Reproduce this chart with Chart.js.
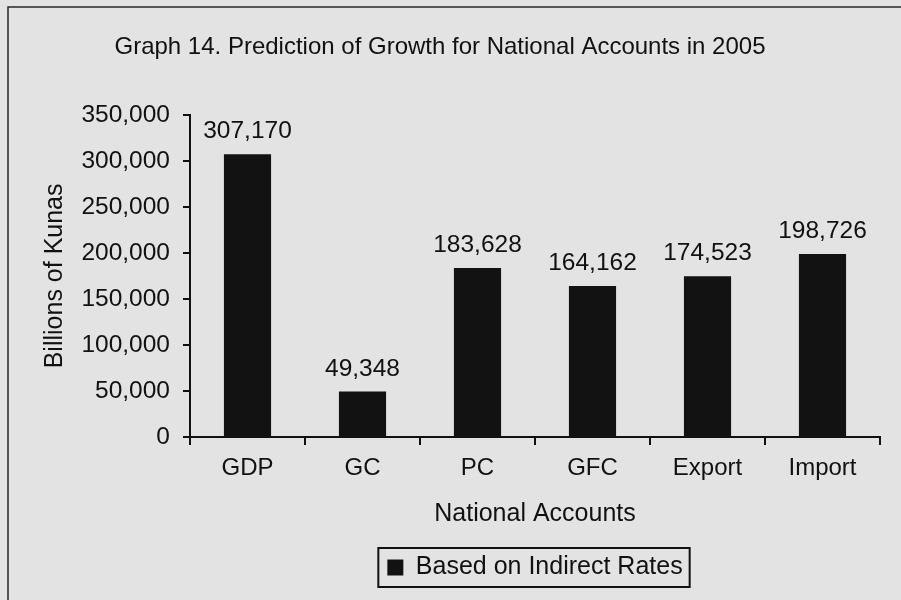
<!DOCTYPE html>
<html>
<head>
<meta charset="utf-8">
<script src="https://cdn.jsdelivr.net/npm/chart.js@4"></script>
<style>
  html, body { margin: 0; padding: 0; background: #e3e3e3; }
  #chart-container { width: 901px; height: 600px; }
</style>
</head>
<body>
<div id="chart-container"><canvas id="myChart" width="901" height="600"></canvas></div>
<script>
const categories = ["GDP", "GC", "PC", "GFC", "Export", "Import"];
const indirectRates = [307170, 49348, 183628, 164162, 174523, 198726];
const yTickValues = [0, 50000, 100000, 150000, 200000, 250000, 300000, 350000];

const FONT = "'Liberation Sans', Arial, sans-serif";

function formatThousands(value) {
  return value.toLocaleString("en-US");
}

// page frame + grey paper behind the plot
const framePlugin = {
  id: "frame",
  beforeDraw(chart) {
    const ctx = chart.ctx;
    ctx.save();
    ctx.fillStyle = "#e3e3e3";
    ctx.fillRect(0, 0, chart.width, chart.height);
    ctx.strokeStyle = "#2a2a2a";
    ctx.lineWidth = 1.5;
    ctx.beginPath();
    ctx.moveTo(8, chart.height);
    ctx.lineTo(8, 7);
    ctx.lineTo(chart.width, 7);
    ctx.stroke();
    ctx.restore();
  },
};

// value printed above each bar
const valueLabels = {
  id: "valueLabels",
  afterDatasetsDraw(chart) {
    const ctx = chart.ctx;
    const meta = chart.getDatasetMeta(0);
    ctx.save();
    ctx.font = `24.5px ${FONT}`;
    ctx.fillStyle = "#111";
    ctx.textAlign = "center";
    ctx.textBaseline = "alphabetic";
    meta.data.forEach((bar, i) => {
      ctx.fillText(formatThousands(chart.data.datasets[0].data[i]), bar.x, bar.y - 16);
    });
    ctx.restore();
  },
};

// box drawn round the legend item
const legendBorder = {
  id: "legendBorder",
  afterDraw(chart) {
    const box = chart.legend && chart.legend.legendHitBoxes[0];
    if (!box) return;
    const ctx = chart.ctx;
    ctx.save();
    ctx.strokeStyle = "#111";
    ctx.lineWidth = 2;
    ctx.strokeRect(box.left - 9, box.top - 7, box.width + 16, box.height + 14);
    ctx.restore();
  },
};

const ctx = document.getElementById("myChart").getContext("2d");
new Chart(ctx, {
  type: "bar",
  data: {
    labels: categories,
    datasets: [
      {
        label: "Based on Indirect Rates",
        data: indirectRates,
        backgroundColor: "#121212",
        borderWidth: 0,
        categoryPercentage: 1,
        barPercentage: 0.41,
      },
    ],
  },
  options: {
    responsive: false,
    animation: false,
    devicePixelRatio: 1,
    layout: { padding: { left: 0, right: 21, top: 0, bottom: 10 } },
    plugins: {
      title: {
        display: true,
        text: "Graph 14. Prediction of Growth for National Accounts in 2005",
        color: "#111",
        font: { family: FONT, size: 24, weight: "normal" },
        padding: { top: 33, bottom: 53 },
      },
      legend: {
        display: true,
        position: "bottom",
        fullSize: false,
        labels: {
          color: "#111",
          font: { family: FONT, size: 25 },
          boxWidth: 16,
          boxHeight: 16,
          padding: 10,
        },
      },
      tooltip: { enabled: false },
    },
    scales: {
      x: {
        grid: {
          offset: true,
          drawOnChartArea: false,
          color: "#111",
          lineWidth: 2,
          tickLength: 8,
        },
        border: { display: true, color: "#111", width: 2 },
        ticks: {
          color: "#111",
          font: { family: FONT, size: 24 },
          padding: 9,
          maxRotation: 0,
        },
        title: {
          display: true,
          text: "National Accounts",
          color: "#111",
          font: { family: FONT, size: 25 },
          padding: { top: 0, bottom: 16 },
        },
        afterFit(scale) {
          scale.height = 108;
        },
      },
      y: {
        min: 0,
        max: 350000,
        afterBuildTicks(scale) {
          scale.ticks = yTickValues.map((v) => ({ value: v }));
        },
        grid: {
          drawOnChartArea: false,
          color: "#111",
          lineWidth: 2,
          tickLength: 7,
        },
        border: { display: true, color: "#111", width: 2 },
        ticks: {
          color: "#111",
          font: { family: FONT, size: 24.5 },
          padding: 13,
          callback: (value) => formatThousands(value),
        },
        title: {
          display: true,
          text: "Billions of Kunas",
          color: "#111",
          font: { family: FONT, size: 25 },
          padding: { top: 40, bottom: 0 },
        },
        afterFit(scale) {
          scale.width = 190;
        },
      },
    },
  },
  plugins: [framePlugin, valueLabels, legendBorder],
});
</script>
</body>
</html>
